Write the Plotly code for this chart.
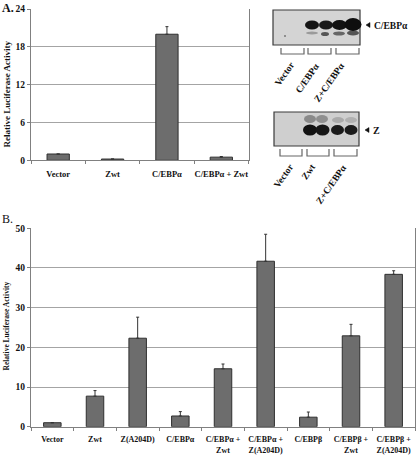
import plotly.graph_objects as go

W, H = 416, 455

# ---- Data ----
a_categories = ["Vector", "Zwt", "C/EBPα", "C/EBPα + Zwt"]
a_values = [1.0, 0.2, 20.0, 0.5]
a_errors = [0.0, 0.0, 1.2, 0.1]
a_ticks = [0, 6, 12, 18, 24]

b_categories = ["Vector", "Zwt", "Z(A204D)", "C/EBPα", "C/EBPα +<br>Zwt",
                "C/EBPα +<br>Z(A204D)", "C/EBPβ", "C/EBPβ +<br>Zwt", "C/EBPβ +<br>Z(A204D)"]
b_values = [1.0, 7.7, 22.3, 2.7, 14.6, 41.7, 2.4, 22.9, 38.4]
b_errors = [0.0, 1.4, 5.3, 1.1, 1.2, 6.8, 1.3, 2.9, 0.9]
b_ticks = [0, 10, 20, 30, 40, 50]

blot1_lanes = ["Vector", "C/EBPα", "Z+C/EBPα"]
blot2_lanes = ["Vector", "Zwt", "Z+C/EBPα"]

FONT = "Liberation Serif"
BAR = "#6d6d6d"
BAR_LINE = "#2f2f2f"
GRID = "#a4a4a4"
AXIS = "#808080"


def px(x):
    return x / W


def py(y):
    return 1 - y / H


fig = go.Figure()

fig.add_trace(go.Bar(
    x=a_categories, y=a_values, width=0.41,
    marker=dict(color=BAR, line=dict(color=BAR_LINE, width=1)),
    error_y=dict(type="data", array=a_errors, arrayminus=[0] * len(a_errors),
                 symmetric=False, color="#333333", thickness=1, width=1.5),
    xaxis="x", yaxis="y", showlegend=False,
))
fig.add_trace(go.Bar(
    x=b_categories, y=b_values, width=0.41,
    marker=dict(color=BAR, line=dict(color=BAR_LINE, width=1)),
    error_y=dict(type="data", array=b_errors, arrayminus=[0] * len(b_errors),
                 symmetric=False, color="#333333", thickness=1, width=1.5),
    xaxis="x2", yaxis="y2", showlegend=False,
))

tickfont = dict(family=FONT, size=8.5, color="#111111", weight="bold")
ytickfont = dict(family=FONT, size=9.5, color="#111111", weight="bold")

common_x = dict(type="category", showline=True, linecolor=AXIS, linewidth=1,
                ticks="outside", tickson="boundaries", ticklen=3, tickcolor=AXIS,
                showgrid=False, automargin=False, fixedrange=True, tickangle=0)
common_y = dict(showline=True, linecolor=AXIS, linewidth=1, mirror=True,
                ticks="outside", ticklen=3, tickcolor=AXIS,
                showgrid=True, gridcolor=GRID, gridwidth=1, zeroline=False,
                automargin=False, fixedrange=True, tickfont=ytickfont)

fig.update_layout(
    width=W, height=H,
    margin=dict(l=0, r=0, t=0, b=0),
    paper_bgcolor="white", plot_bgcolor="white",
    bargap=0.5,
    xaxis=dict(domain=[px(31), px(248.5)], anchor="y", tickfont=tickfont,
               ticklabelstandoff=5, **common_x),
    yaxis=dict(domain=[py(160.3), py(9)], anchor="x", range=[0, 24],
               tickvals=a_ticks, **common_y),
    xaxis2=dict(domain=[px(31), px(415)], anchor="y2",
                tickfont=dict(family=FONT, size=8, color="#111111", weight="bold"),
                ticklabelstandoff=5, **common_x),
    yaxis2=dict(domain=[py(426.7), py(228.3)], anchor="x2", range=[0, 50],
                tickvals=b_ticks, **common_y),
)

annotations = []
shapes = []

# Panel labels and y titles
annotations.append(dict(text="A.", x=px(0), y=py(8), xref="paper", yref="paper",
                        xanchor="left", yanchor="middle", showarrow=False,
                        font=dict(family=FONT, size=12, color="#111", weight="bold")))
annotations.append(dict(text="B.", x=px(0), y=py(219), xref="paper", yref="paper",
                        xanchor="left", yanchor="middle", showarrow=False,
                        font=dict(family=FONT, size=12, color="#111")))
annotations.append(dict(text="Relative Luciferase Activity", x=px(6), y=py(94.5),
                        xref="paper", yref="paper", textangle=-90, showarrow=False,
                        xanchor="center", yanchor="middle",
                        font=dict(family=FONT, size=9, color="#111", weight="bold")))
annotations.append(dict(text="Relative Luciferase Activity", x=px(6), y=py(326.5),
                        xref="paper", yref="paper", textangle=-90, showarrow=False,
                        xanchor="center", yanchor="middle",
                        font=dict(family=FONT, size=7.5, color="#111", weight="bold")))


def rect(x0, y0, x1, y1, fill, line="#333", lw=1):
    shapes.append(dict(type="rect", xref="paper", yref="paper",
                       x0=px(x0), x1=px(x1), y0=py(y1), y1=py(y0),
                       fillcolor=fill, line=dict(color=line, width=lw)))


def blob(cx, cy, rx, ry, fill, opacity=1.0):
    shapes.append(dict(type="circle", xref="paper", yref="paper",
                       x0=px(cx - rx), x1=px(cx + rx), y0=py(cy + ry), y1=py(cy - ry),
                       fillcolor=fill, opacity=opacity, line=dict(width=0)))


def path(pts, close=False, fill=None, color="#444", lw=1):
    d = "M " + " L ".join(f"{px(x)},{py(y)}" for x, y in pts)
    if close:
        d += " Z"
    s = dict(type="path", xref="paper", yref="paper", path=d,
             line=dict(color=color, width=lw))
    if fill:
        s["fillcolor"] = fill
    shapes.append(s)


def bracket(x0, x1, y0, y1):
    path([(x0, y0), (x0, y1), (x1, y1), (x1, y0)], color="#666", lw=1.2)


def arrow(x, y):
    path([(x, y), (x + 4, y - 2.5), (x + 4, y + 2.5)], close=True, fill="#111", color="#111", lw=0.5)


def lane_label(text, x, y):
    annotations.append(dict(text=text, x=px(x), y=py(y), xref="paper", yref="paper",
                            xanchor="right", yanchor="top", textangle=-55, showarrow=False,
                            font=dict(family=FONT, size=9.5, color="#111", weight="bold")))


# Blot 1 (C/EBPα)
rect(273, 10, 360, 45, "#d4d4d4", "#3a3a3a", 1.2)
blob(312, 33, 6, 1.5, "#9a9a9a")
blob(325, 34, 4, 2, "#555")
blob(339, 33.5, 6, 2, "#666")
blob(353, 33, 6, 2.5, "#555")
blob(312, 25, 7, 4.5, "#141414")
blob(326, 25, 7, 4.5, "#181818")
blob(339.5, 25, 7.5, 5, "#121212")
blob(353, 24.5, 8.5, 6.5, "#0e0e0e")
blob(285, 36, 1, 1, "#777")
arrow(366, 25)
annotations.append(dict(text="C/EBPα", x=px(372), y=py(25.5), xref="paper", yref="paper",
                        xanchor="left", yanchor="middle", showarrow=False,
                        font=dict(family=FONT, size=9.5, color="#111", weight="bold")))
bracket(281, 304, 48, 54)
bracket(308, 331, 48, 54)
bracket(336, 359, 48, 54)
lane_label(blot1_lanes[0], 299, 57)
lane_label(blot1_lanes[1], 324, 58)
lane_label(blot1_lanes[2], 350, 58)

# Blot 2 (Z)
rect(274, 112, 359, 146, "#cfcfcf", "#3a3a3a", 1.2)
blob(310, 119, 6, 4, "#8a8a8a")
blob(322, 119, 6, 4, "#8f8f8f")
blob(338, 120, 6, 3, "#aaaaaa")
blob(351, 120, 6, 3, "#b0b0b0")
blob(310, 130, 7, 5.5, "#121212")
blob(322.5, 130, 7, 5.5, "#161616")
blob(337.5, 130, 6.5, 5, "#1a1a1a")
blob(351, 130, 6.5, 5, "#1a1a1a")
arrow(365, 130)
annotations.append(dict(text="Z", x=px(371), y=py(130.5), xref="paper", yref="paper",
                        xanchor="left", yanchor="middle", showarrow=False,
                        font=dict(family=FONT, size=10, color="#111", weight="bold")))
bracket(280, 302, 149, 156)
bracket(307, 329, 149, 156)
bracket(334, 357, 149, 156)
lane_label(blot2_lanes[0], 298, 159)
lane_label(blot2_lanes[1], 320, 159)
lane_label(blot2_lanes[2], 352, 160)

fig.update_layout(annotations=annotations, shapes=shapes)

fig.write_html(
    "out.html",
    config={"displayModeBar": False},
    post_script="document.body.style.margin='0px';document.body.style.padding='0px';"
                "document.documentElement.style.overflow='hidden';",
)
